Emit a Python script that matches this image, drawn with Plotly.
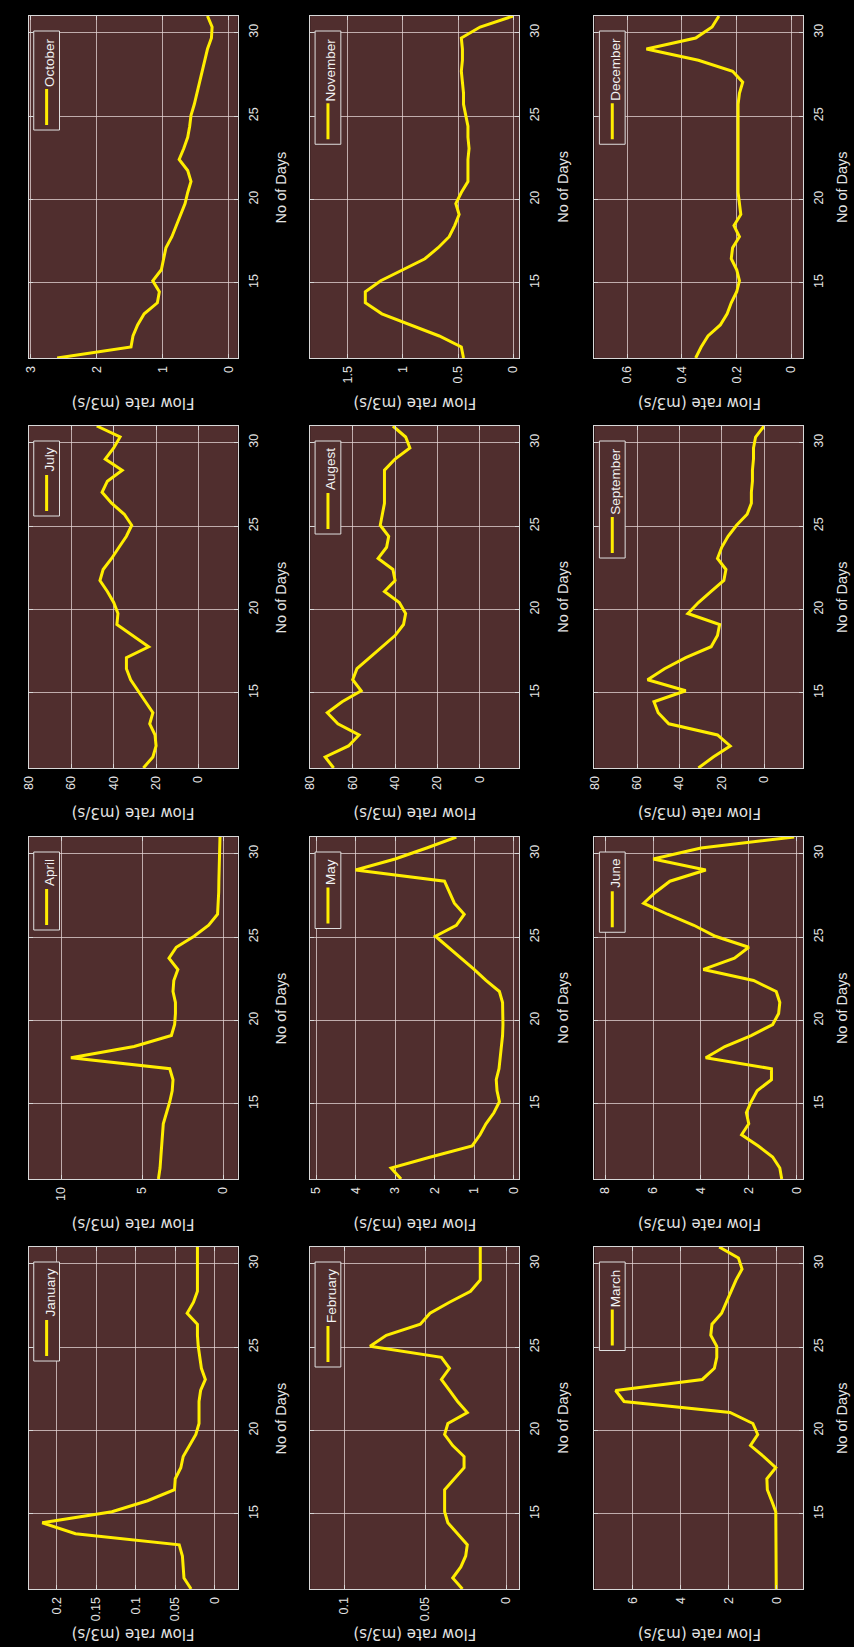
import plotly.graph_objects as go

# ---------------- data ----------------
days = [10.5, 11.16, 11.82, 12.48, 13.15, 13.81, 14.47, 15.13, 15.79, 16.45,
        17.11, 17.77, 18.44, 19.10, 19.76, 20.42, 21.08, 21.74, 22.40, 23.06,
        23.73, 24.39, 25.05, 25.71, 26.37, 27.03, 27.69, 28.35, 29.02, 29.68,
        30.34, 31.0]

month_names = ["January", "February", "March", "April", "May", "June", "July",
               "Augest", "September", "October", "November", "December"]

jan_flow = [0.030, 0.039, 0.040, 0.041, 0.045, 0.176, 0.218, 0.130, 0.085, 0.051,
            0.050, 0.043, 0.040, 0.032, 0.024, 0.020, 0.020, 0.020, 0.018, 0.012,
            0.017, 0.019, 0.021, 0.022, 0.022, 0.035, 0.027, 0.022, 0.022, 0.022,
            0.022, 0.022]
feb_flow = [0.027, 0.033, 0.028, 0.025, 0.024, 0.030, 0.036, 0.038, 0.038, 0.038,
            0.032, 0.026, 0.026, 0.033, 0.038, 0.036, 0.024, 0.030, 0.035, 0.040,
            0.035, 0.040, 0.084, 0.074, 0.053, 0.047, 0.035, 0.022, 0.016, 0.016,
            0.016, 0.016]
mar_flow = [0.03, 0.03, 0.03, 0.03, 0.03, 0.03, 0.03, 0.05, 0.22, 0.40,
            0.42, 0.05, 0.55, 1.10, 0.80, 1.00, 1.95, 6.35, 6.70, 3.10,
            2.60, 2.50, 2.50, 2.75, 2.70, 2.30, 2.10, 1.90, 1.70, 1.45,
            1.60, 2.40]
apr_flow = [4.0, 3.9, 3.85, 3.8, 3.75, 3.7, 3.5, 3.3, 3.15, 3.1,
            3.3, 9.4, 5.5, 3.2, 3.0, 2.95, 2.95, 3.1, 3.05, 2.8,
            3.35, 2.9, 1.8, 0.9, 0.35, 0.3, 0.28, 0.27, 0.25, 0.24,
            0.22, 0.2]
may_flow = [2.85, 3.1, 2.1, 1.05, 0.85, 0.7, 0.5, 0.36, 0.42, 0.44,
            0.37, 0.34, 0.31, 0.28, 0.27, 0.27, 0.28, 0.36, 0.7, 1.0,
            1.33, 1.65, 1.98, 1.45, 1.25, 1.5, 1.62, 1.75, 4.0, 3.0,
            2.2, 1.45]
jun_flow = [0.62, 0.7, 1.0, 1.6, 2.3, 2.0, 2.1, 1.9, 1.65, 1.05,
            1.05, 3.8, 3.0, 1.9, 1.0, 0.75, 0.7, 0.85, 1.8, 3.9,
            2.6, 2.0, 3.4, 4.3, 5.4, 6.4, 5.9, 5.3, 3.8, 6.0,
            4.0, 0.1]
jul_flow = [26, 21.5, 20, 20.5, 23, 21.5, 25, 28.5, 32, 34,
            34, 23.5, 31, 38.5, 38, 40, 43, 46.5, 45, 41,
            37.5, 34, 31.5, 35, 41, 45.5, 43, 36, 44, 40,
            37, 48]
aug_flow = [69, 73, 62, 57, 67, 72, 65, 56, 60, 58,
            52, 46, 40, 36, 35, 38, 45, 40, 41, 48,
            44, 43, 47, 46, 45, 45, 45, 45, 40, 33,
            35, 41]
sep_flow = [31, 24, 16, 22, 45, 50, 52, 37, 55, 47,
            37, 25, 22, 21, 36, 31, 25, 19, 18, 22,
            20, 17, 13, 8, 6, 6, 5.5, 5.5, 5, 5,
            4, 0]
oct_flow = [2.6, 1.48, 1.45, 1.38, 1.28, 1.08, 1.05, 1.15, 1.02, 0.98,
            0.95, 0.86, 0.79, 0.73, 0.66, 0.62, 0.57, 0.62, 0.75, 0.68,
            0.62, 0.59, 0.57, 0.52, 0.48, 0.45, 0.40, 0.36, 0.32, 0.26,
            0.25, 0.32]
nov_flow = [0.45, 0.47, 0.67, 0.93, 1.19, 1.34, 1.34, 1.2, 1.0, 0.8,
            0.68, 0.58, 0.53, 0.49, 0.52, 0.47, 0.41, 0.41, 0.41, 0.40,
            0.41, 0.41, 0.43, 0.45, 0.45, 0.46, 0.47, 0.46, 0.46, 0.47,
            0.30, 0.0]
dec_flow = [0.35, 0.33, 0.305, 0.26, 0.235, 0.22, 0.2, 0.19, 0.2, 0.22,
            0.215, 0.19, 0.21, 0.185, 0.19, 0.195, 0.195, 0.195, 0.195, 0.195,
            0.195, 0.195, 0.195, 0.195, 0.19, 0.178, 0.215, 0.34, 0.53, 0.35,
            0.29, 0.265]

flows = [jan_flow, feb_flow, mar_flow, apr_flow, may_flow, jun_flow,
         jul_flow, aug_flow, sep_flow, oct_flow, nov_flow, dec_flow]

flow_ticks = [[0, 0.05, 0.1, 0.15, 0.2], [0, 0.05, 0.1], [0, 2, 4, 6],
              [0, 5, 10], [0, 1, 2, 3, 4, 5], [0, 2, 4, 6, 8],
              [0, 20, 40, 60, 80], [0, 20, 40, 60, 80], [0, 20, 40, 60, 80],
              [0, 1, 2, 3], [0, 0.5, 1, 1.5], [0, 0.2, 0.4, 0.6]]
day_ticks = [15, 20, 25, 30]

# axis limits (max, min) -> value axis is reversed (figure is rotated)
flow_limits = [(0.235, -0.029), (0.121, -0.008), (7.58, -1.1), (12.0, -0.9),
               (5.15, -0.14), (8.46, -0.29), (80.1, -18.6), (80.1, -18.6),
               (80.1, -18.6), (3.03, -0.14), (1.84, -0.054), (0.72, -0.044)]
day_limits = [10.5, 31]

# ---------------- styling / layout ----------------
W, H = 854, 1647
COL_L = [22, 306, 593]
ROW_T = [16, 426, 837, 1247]
PW, PH = 211, 342
YELLOW = "#ffee00"
BG = "#502e2e"
GRID = "rgba(230,215,215,0.75)"
AXC = "#d8d8d8"
TXT = "#e4e4e4"
FONT = "Liberation Sans, Arial, sans-serif"

AW = {'A': 667, 'B': 667, 'C': 722, 'D': 722, 'E': 667, 'F': 611, 'G': 778, 'H': 722,
      'I': 278, 'J': 500, 'K': 667, 'L': 556, 'M': 833, 'N': 722, 'O': 778, 'P': 667,
      'Q': 778, 'R': 722, 'S': 667, 'T': 611, 'U': 722, 'V': 667, 'W': 944, 'X': 667,
      'Y': 667, 'Z': 611, 'a': 556, 'b': 556, 'c': 500, 'd': 556, 'e': 556, 'f': 278,
      'g': 556, 'h': 556, 'i': 222, 'j': 222, 'k': 500, 'l': 222, 'm': 833, 'n': 556,
      'o': 556, 'p': 556, 'q': 556, 'r': 333, 's': 500, 't': 278, 'u': 556, 'v': 500,
      'w': 722, 'x': 500, 'y': 500, 'z': 500, ' ': 278}


def text_len(s, size):
    return sum(AW.get(c, 556) for c in s) / 1000.0 * size


def px(x):
    return x / W


def py(y):
    return 1 - y / H


fig = go.Figure()
layout = {}
shapes = []
annotations = []
LEG_SIZE = 13.5

for i, (name, vals) in enumerate(zip(month_names, flows)):
    col = i % 3
    row = 3 - i // 3
    L = COL_L[col]
    T = ROW_T[row]
    n = i + 1
    xa = "xaxis" if n == 1 else f"xaxis{n}"
    ya = "yaxis" if n == 1 else f"yaxis{n}"

    fig.add_trace(go.Scatter(x=vals, y=days, mode="lines",
                             line=dict(color=YELLOW, width=3),
                             xaxis=f"x{n}", yaxis=f"y{n}",
                             showlegend=False, hoverinfo="skip"))

    common = dict(showgrid=True, gridcolor=GRID, gridwidth=1, zeroline=False,
                  showline=True, linecolor=AXC, linewidth=1, mirror="allticks",
                  ticks="inside", ticklen=4, tickcolor=AXC, tickangle=-90,
                  tickfont=dict(family=FONT, size=12.5, color=TXT))
    layout[xa] = dict(domain=[px(L), px(L + PW)], anchor=f"y{n}",
                      range=list(flow_limits[i]), tickvals=flow_ticks[i],
                      ticklabelstandoff=2, **common)
    layout[ya] = dict(domain=[py(T + PH), py(T)], anchor=f"x{n}", side="right",
                      range=day_limits, tickvals=day_ticks,
                      ticklabelstandoff=4, **common)

    # axis titles (rotated like the figure)
    title_x = min(L + PW + 44, W - 11)
    annotations.append(dict(x=px(title_x), y=py(T + PH / 2), xref="paper", yref="paper",
                            text="No of Days", textangle=-90, showarrow=False,
                            xanchor="center", yanchor="middle", borderpad=0,
                            font=dict(family=FONT, size=14.5, color=TXT)))
    annotations.append(dict(x=px(L + PW / 2), y=py(T + PH + 45), xref="paper", yref="paper",
                            text="Flow rate (m3/s)", textangle=180, showarrow=False,
                            xanchor="center", yanchor="middle", borderpad=0,
                            font=dict(family="DejaVu Sans, sans-serif", size=15, color=TXT)))

    # legend box (drawn rotated)
    tl = text_len(name, LEG_SIZE)
    box_top = T + 15
    text_top = box_top + 6
    samp_top = text_top + tl + 4
    samp_bot = samp_top + 36
    box_bot = samp_bot + 5
    shapes.append(dict(type="rect", xref="paper", yref="paper",
                       x0=px(L + 5), x1=px(L + 31), y0=py(box_bot), y1=py(box_top),
                       line=dict(color="#e0e0e0", width=1), fillcolor=BG, layer="above"))
    shapes.append(dict(type="line", xref="paper", yref="paper",
                       x0=px(L + 18), x1=px(L + 18), y0=py(samp_bot), y1=py(samp_top),
                       line=dict(color=YELLOW, width=3), layer="above"))
    annotations.append(dict(x=px(L + 21), y=py(text_top), xref="paper", yref="paper",
                            text=name, textangle=-90, showarrow=False,
                            xanchor="center", yanchor="top", borderpad=0,
                            font=dict(family=FONT, size=LEG_SIZE, color="#f2f2f2")))

fig.update_layout(width=W, height=H, autosize=False,
                  margin=dict(l=0, r=0, t=0, b=0),
                  paper_bgcolor="black", plot_bgcolor=BG,
                  shapes=shapes, annotations=annotations, **layout)

fig.write_html("out.html",
               config={"displayModeBar": False, "staticPlot": True},
               post_script="document.body.style.margin='0';"
                           "document.body.style.background='black';"
                           "document.documentElement.style.overflow='hidden';")
